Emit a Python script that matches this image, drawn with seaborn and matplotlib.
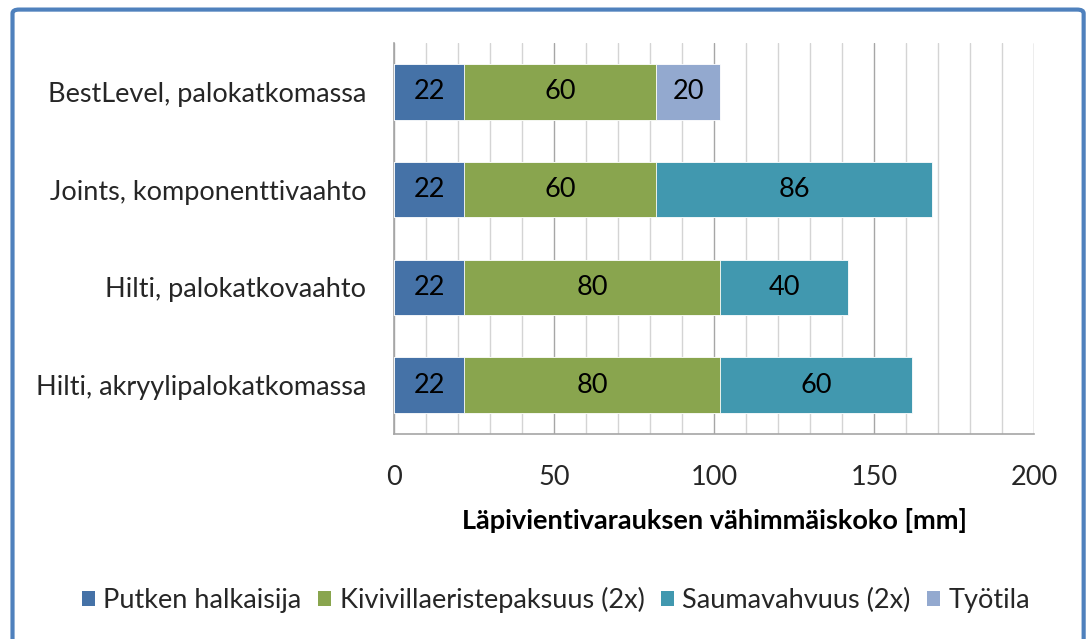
import numpy as np
import pandas as pd
import matplotlib.pyplot as plt
import seaborn as sns
from matplotlib.patches import FancyBboxPatch, Patch
from matplotlib.ticker import MultipleLocator

categories = ['BestLevel, palokatkomassa', 'Joints, komponenttivaahto',
              'Hilti, palokatkovaahto', 'Hilti, akryylipalokatkomassa']
putken = [22, 22, 22, 22]
kivivilla = [60, 60, 80, 80]
sauma = [0, 86, 40, 60]
tyotila = [20, 0, 0, 0]

series = ['Putken halkaisija', 'Kivivillaeristepaksuus (2x)', 'Saumavahvuus (2x)', 'Työtila']
colors = ['#4572A7', '#89A54E', '#4198AF', '#93A9CF']

df = pd.DataFrame({'cat': categories, series[0]: putken, series[1]: kivivilla,
                   series[2]: sauma, series[3]: tyotila})
cum = df[series].cumsum(axis=1)

sns.set_theme(style='white')
plt.rcParams['font.family'] = ['Lato', 'DejaVu Sans']
fs = 19.5

fig = plt.figure(figsize=(10.88, 6.39), dpi=100)
ax = fig.add_axes([0.3621, 0.3208, 0.5883, 0.6119])

# stacked bars: draw cumulative totals from the outermost layer inward
for s, c in reversed(list(zip(series, colors))):
    sns.barplot(data=cum.assign(cat=df['cat']), x=s, y='cat', color=c,
                width=0.57, ax=ax, saturation=1, edgecolor='white', linewidth=0.6, zorder=3)

# value labels in the middle of each segment
for i, row in df.iterrows():
    left = 0
    for s in series:
        v = row[s]
        if v > 0:
            ax.text(left + v / 2, i, str(v), ha='center', va='center', fontsize=fs, color='black', zorder=4)
        left += v

ax.set_xlim(0, 200)
ax.xaxis.set_major_locator(MultipleLocator(50))
ax.xaxis.set_minor_locator(MultipleLocator(10))
ax.grid(which='minor', axis='x', color='#D4D4D4', linewidth=1, zorder=0)
ax.grid(which='major', axis='x', color='#A6A6A6', linewidth=1, zorder=0)
ax.set_axisbelow(True)

for side in ['top', 'right']:
    ax.spines[side].set_visible(False)
ax.spines['left'].set_color('#A6A6A6')
ax.spines['bottom'].set_color('#A6A6A6')
ax.spines['left'].set_linewidth(1.2)
ax.spines['bottom'].set_linewidth(1.2)

ax.tick_params(axis='both', which='both', length=0, labelsize=fs, colors='#262626')
ax.tick_params(axis='x', pad=22)
ax.tick_params(axis='y', pad=20)
ax.set_ylabel('')
ax.set_xlabel('Läpivientivarauksen vähimmäiskoko [mm]', fontsize=fs, fontweight='bold',
              color='black', labelpad=13)

handles = [Patch(facecolor=c, edgecolor='none') for c in colors]
fig.legend(handles, series, loc='center', bbox_to_anchor=(0.511, 0.061), ncol=4, frameon=False,
           fontsize=fs, handlelength=0.5, handleheight=0.5, handletextpad=0.3, columnspacing=0.6)

# outer chart frame
frame = FancyBboxPatch((0.0115, -0.05), 0.9845, 1.035, boxstyle='round,pad=0,rounding_size=0.006',
                       transform=fig.transFigure, facecolor='none', edgecolor='#4F81BD',
                       linewidth=3, zorder=10)
fig.patches.append(frame)

fig.savefig('out.png', dpi=100)
